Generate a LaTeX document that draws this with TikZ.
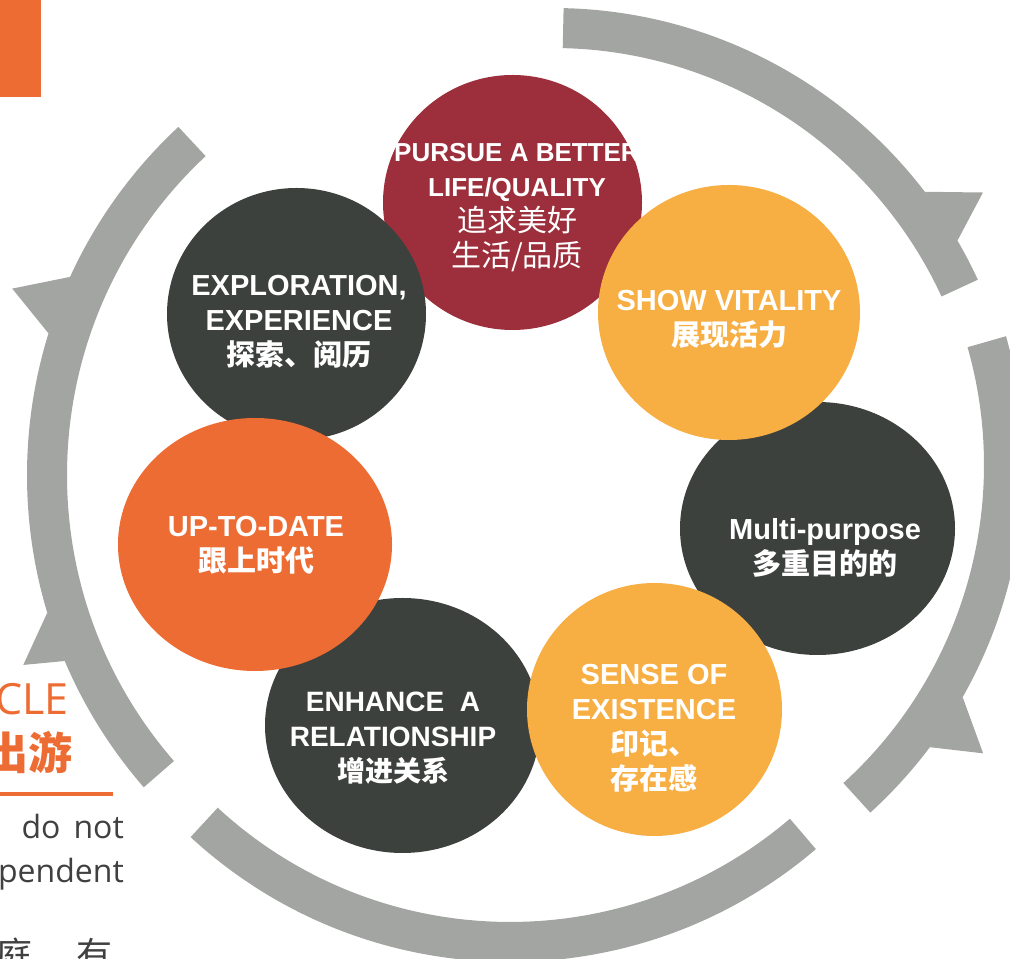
\documentclass[tikz,border=0pt]{standalone}
\usepackage{fontspec}
\setmainfont{Liberation Sans}
\newfontfamily\cjk{Noto Sans CJK SC}
\newfontfamily\opensans{Open Sans}
\usetikzlibrary{shapes.geometric}
\definecolor{ringgray}{RGB}{163,165,162}
\definecolor{wine}{RGB}{156,47,59}
\definecolor{amber}{RGB}{247,174,66}
\definecolor{charcoal}{RGB}{61,65,62}
\definecolor{tangerine}{RGB}{237,108,51}
\definecolor{bodygray}{RGB}{64,64,64}

\begin{document}
\begin{tikzpicture}[
    x=1pt, y=1pt,
    ring/.style={fill=ringgray},
    bubble/.style={ellipse, inner sep=0pt, fill=#1},
    caption/.style={text=white, align=center, inner sep=0pt, font=\bfseries\fontsize{29}{35}\selectfont},
    side/.style={text=bodygray, inner sep=0pt, font=\opensans\fontsize{32}{38}\selectfont}
]
\useasboundingbox (0,0) rectangle (1010,959);
\clip (0,0) rectangle (1010,959);

% centres of the four ring pieces
\coordinate (topc) at (553,483);
\coordinate (rightc) at (554,494);
\coordinate (bottomc) at (510,468);
\coordinate (leftc) at (503,484);

% ring pieces
\fill[ring] (topc) ++(88.7:428) arc[start angle=88.7, end angle=24.8, radius=428]
    -- ++(24.8:40) arc[start angle=24.8, end angle=88.7, radius=468] -- cycle;
\fill[ring] (rightc) ++(15.9:430) arc[start angle=15.9, end angle=-47.7, radius=430]
    -- ++(-47.7:40) arc[start angle=-47.7, end angle=15.9, radius=470] -- cycle;
\fill[ring] (bottomc) ++(227.3:431) arc[start angle=227.3, end angle=310.5, radius=431]
    -- ++(310.5:40) arc[start angle=310.5, end angle=227.3, radius=471] -- cycle;
\fill[ring] (leftc) ++(133:436) arc[start angle=133, end angle=221, radius=436]
    -- ++(221:40) arc[start angle=221, end angle=133, radius=476] -- cycle;

% barbs on the outer edge
\fill[ring] ([shift={(topc)}]37.4:468) -- ([shift={(topc)}]33.4:515) -- ([shift={(topc)}]30.2:468) -- cycle;
\fill[ring] ([shift={(rightc)}]-29.6:470) -- ([shift={(rightc)}]-33.9:517) -- ([shift={(rightc)}]-36.9:470) -- cycle;
\fill[ring] ([shift={(leftc)}]155.4:476) -- ([shift={(leftc)}]159.2:525) -- ([shift={(leftc)}]162.7:476) -- cycle;
\fill[ring] ([shift={(leftc)}]196.8:476) -- ([shift={(leftc)}]201.6:516) -- ([shift={(leftc)}]203:476) -- cycle;

% circles
\node[bubble=wine, minimum width=259pt, minimum height=255pt] (pursue) at (512.5,756.5) {};
\node[bubble=charcoal, minimum width=259pt, minimum height=252pt] (explore) at (296.5,645) {};
\node[bubble=charcoal, minimum width=275pt, minimum height=253pt] (multi) at (817.5,430.5) {};
\node[bubble=charcoal, minimum width=275pt, minimum height=255pt] (enhance) at (402.5,233.5) {};
\node[bubble=amber, minimum width=262pt, minimum height=255pt] (vitality) at (729,646.5) {};
\node[bubble=amber, minimum width=255pt, minimum height=253pt] (sense) at (654.5,249.5) {};
\node[bubble=tangerine, minimum width=274pt, minimum height=253pt] (uptodate) at (255,414.5) {};

% labels
\node[caption, font=\bfseries\fontsize{26}{35}\selectfont] (pursuetext) at (517,751)
    {PURSUE A BETTER\\LIFE/QUALITY\\{\cjk\mdseries\fontsize{30}{35}\selectfont 追求美好}\\{\cjk\mdseries\fontsize{30}{35}\selectfont 生活/品质}};
\node[caption] (exploretext) at (299,637) {EXPLORATION,\\EXPERIENCE\\{\cjk 探索、阅历}};
\node[caption] (vitalitytext) at (729,640) {SHOW VITALITY\\{\cjk 展现活力}};
\node[caption] (multitext) at (825,411) {Multi-purpose\\{\cjk 多重目的的}};
\node[caption] (sensetext) at (654,231) {SENSE OF\\EXISTENCE\\{\cjk 印记、}\\{\cjk 存在感}};
\node[caption, font=\bfseries\fontsize{28}{35}\selectfont] (enhancetext) at (393,221) {ENHANCE\ \ A\\RELATIONSHIP\\{\cjk 增进关系}};
\node[caption] (uptodatetext) at (256,414) {UP-TO-DATE\\{\cjk 跟上时代}};

% side text block
\fill[tangerine] (0,959) rectangle (41,862);
\node[anchor=base east, inner sep=0pt, text=tangerine, font=\opensans\fontsize{43}{43}\selectfont] (titleword) at (69,244) {CLE};
\node[anchor=base east, inner sep=0pt, text=tangerine, font=\cjk\bfseries\fontsize{44}{44}\selectfont] (titlecjk) at (73,189) {出游};
\draw[tangerine, line width=4pt] (0,165) -- (113,165);
\node[side, anchor=base east] (bodyone) at (124,120) {do\hspace{13pt}not};
\node[side, anchor=base east] (bodytwo) at (124,76) {pendent};
\node[side, anchor=base west, font=\cjk\fontsize{36}{36}\selectfont] (bodythree) at (-4,-10) {庭、\hspace{8pt}有};
\end{tikzpicture}
\end{document}
